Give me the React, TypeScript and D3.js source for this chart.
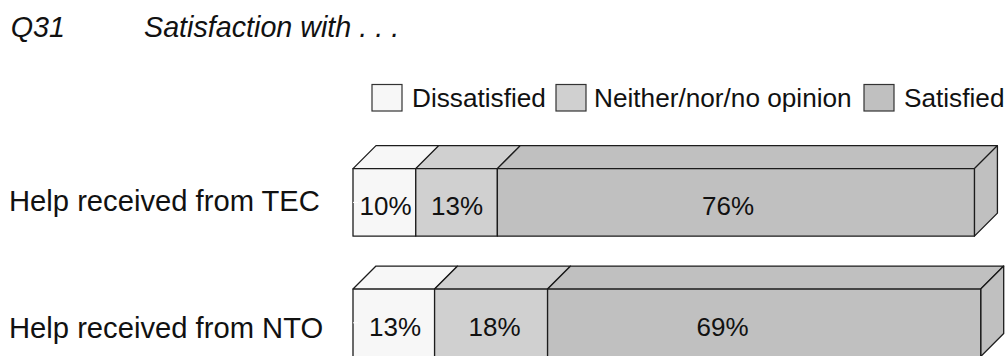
import React from "react";
import * as d3 from "d3";

const categories = ["Help received from TEC", "Help received from NTO"];
const seriesNames = ["Dissatisfied", "Neither/nor/no opinion", "Satisfied"];
const dissatisfied = [10, 13];
const neither = [13, 18];
const satisfied = [76, 69];
const seriesColors = ["#f7f7f7", "#d0d0d0", "#c0c0c0"];
const legendTextX = [412, 594, 904];
const legendSwatchX = [372, 556, 864];
// Label anchors per row, hand-placed the way the original stacked labels sit.
const valueLabelX = [[385.5, 457, 728], [395, 494.5, 722.5]];
const valueBaselines = [215, 336];
const categoryBaselines = [210.7, 337.5];

const width = 1008;
const height = 356;
const depth = 23;
const barHeight = 67.5;
const font = "'Liberation Sans', Arial, sans-serif";
const ink = "#1c1c1c";

const x = d3.scaleLinear().domain([0, 100]).range([353, 980.7]);
const y = d3.scalePoint<string>().domain(categories).range([202.4, 322.8]);

// One stacked 3D box: front face, top face and, for the last segment, the side face.
function Box({ x0, x1, yc, fill, last }: { x0: number; x1: number; yc: number; fill: string; last: boolean }) {
  const top = yc - barHeight / 2;
  const bottom = yc + barHeight / 2;
  const path = (pts: [number, number][]) => d3.line()(pts) + "Z";
  return (
    <g fill={fill} stroke={ink} strokeWidth={1.3} strokeLinejoin="round">
      <path d={path([[x0, top], [x0 + depth, top - depth], [x1 + depth, top - depth], [x1, top]])} />
      {last && <path d={path([[x1, top], [x1 + depth, top - depth], [x1 + depth, bottom - depth], [x1, bottom]])} />}
      <path d={path([[x0, top], [x1, top], [x1, bottom], [x0, bottom]])} />
    </g>
  );
}

export default function App() {
  const rows = categories.map((c, i) => {
    const values = [dissatisfied[i], neither[i], satisfied[i]];
    const starts = d3.cumsum([0, ...values]);
    return { c, i, values, starts, yc: y(c) as number };
  });
  return (
    <svg
      width={width}
      height={height}
      viewBox={`0 0 ${width} ${height}`}
      style={{ position: "absolute", left: 0, top: 0, background: "#fff" }}
      fontFamily={font}
      fill="#111"
    >
      <g fontSize={28.7} fontStyle="italic">
        <text x={10.8} y={37.3}>Q31</text>
        <text x={144} y={37.3}>Satisfaction with . . .</text>
      </g>

      <g fontSize={26.2}>
        {seriesNames.map((name, i) => (
          <g key={name}>
            <rect x={legendSwatchX[i]} y={84.5} width={30} height={26.5} fill={seriesColors[i]} stroke="#333" strokeWidth={1.2} />
            <text x={legendTextX[i]} y={107.3}>{name}</text>
          </g>
        ))}
      </g>

      {rows.map((r) => (
        <g key={r.c}>
          <text x={9} y={categoryBaselines[r.i]} fontSize={29.2}>{r.c}</text>
          {r.values.map((v, j) => (
            <Box
              key={j}
              x0={x(r.starts[j])}
              x1={x(r.starts[j + 1])}
              yc={r.yc}
              fill={seriesColors[j]}
              last={j === r.values.length - 1}
            />
          ))}
          <line x1={353} x2={358} y1={r.yc} y2={r.yc} stroke="#fff" strokeWidth={1} />
          {r.values.map((v, j) => (
            <text key={j} x={valueLabelX[r.i][j]} y={valueBaselines[r.i]} fontSize={26} textAnchor="middle">
              {v}%
            </text>
          ))}
        </g>
      ))}
    </svg>
  );
}
